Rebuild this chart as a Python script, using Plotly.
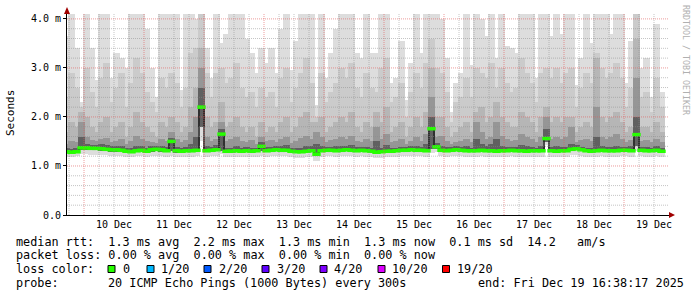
import numpy as np
import pandas as pd
import plotly.graph_objects as go

# ---------------- data (2-hour bins, values in ms) ----------------
bin_start = "2025-12-09 17:00"
bin_hours = 2
n_bins = 120

median = [1.29, 1.28, 1.29, 1.37, 1.37, 1.36, 1.36, 1.35, 1.34, 1.33, 1.33, 1.32, 1.30,
          1.29, 1.31, 1.32, 1.30, 1.33, 1.34, 1.33, 1.31,
          1.50, 1.31, 1.30, 1.31, 1.31, 1.32, 2.20, 1.31, 1.32, 1.33, 1.65,
          1.30, 1.30, 1.31, 1.30, 1.31, 1.30, 1.31, 1.40,
          1.31, 1.32, 1.33, 1.32, 1.32, 1.30, 1.29, 1.29, 1.30, 1.31, 1.24,
          1.31, 1.32, 1.32, 1.31, 1.32, 1.33, 1.32, 1.31, 1.32, 1.31,
          1.30, 1.28, 1.29, 1.30, 1.30, 1.31, 1.32, 1.32, 1.33, 1.32, 1.32, 1.31,
          1.76, 1.39,
          1.32, 1.31, 1.32, 1.33, 1.32, 1.31, 1.31, 1.31, 1.32, 1.31, 1.31, 1.30, 1.31,
          1.31, 1.32, 1.31, 1.31, 1.30, 1.31, 1.31, 1.31,
          1.56,
          1.31, 1.30, 1.31, 1.31, 1.34, 1.35, 1.33, 1.31, 1.30, 1.31, 1.32, 1.31, 1.31,
          1.31, 1.32, 1.32, 1.31,
          1.64, 1.32, 1.31, 1.31, 1.32, 1.30]

ping_max = [3.65, 4.1, 3.4, 2.3, 4.1, 3.4, 2.75, 4.1, 4.1, 2.8, 3.3, 3.2, 3.0, 4.1, 4.1, 4.1, 3.8, 3.0, 2.4, 4.1, 4.1,
            4.1, 4.1, 2.55, 4.1, 4.1, 4.0, 4.1, 3.4, 2.8, 4.1, 3.5, 3.7, 4.1, 4.1, 4.1, 3.6, 3.3, 2.9, 3.4, 3.1,
            3.4, 2.9, 3.8, 4.1, 2.95, 3.55, 4.1, 4.1, 4.1, 2.25, 4.1, 2.8, 3.3, 3.8, 4.1, 4.1, 4.1, 3.3, 3.2, 4.1,
            3.3, 3.3, 4.1, 4.1, 2.7, 2.8, 3.55, 2.35, 3.1, 4.1, 3.3, 4.1, 4.1, 4.1, 4.0, 3.2, 2.1, 2.7, 2.9, 4.1,
            3.05, 4.1, 4.0, 3.65, 4.1, 3.2, 4.1, 3.45, 3.4, 3.3, 4.1, 4.1, 4.1, 2.8, 4.1, 4.1, 3.65, 4.1, 3.7, 4.1,
            4.1, 2.65, 3.2, 4.1, 3.5, 4.1, 4.1, 4.1, 3.7, 4.1, 4.1, 2.7, 3.55, 4.1, 3.0, 3.2, 2.4, 3.9, 2.5]

ping_high2 = [2.4, 2.9, 2.6, 2.2, 3.0, 2.5, 2.2, 2.8, 3.1, 2.3, 2.6, 2.9, 2.2, 2.7, 3.2, 2.9, 2.5, 2.3, 2.1, 2.8, 2.6,
              2.9, 2.7, 2.2, 2.6, 3.3, 3.4, 4.1, 2.9, 2.4, 2.9, 3.0, 2.7, 2.8, 3.1, 2.6, 2.4, 2.5, 2.2, 2.6, 2.4,
              2.5, 2.2, 2.8, 3.0, 2.3, 2.6, 2.9, 3.2, 2.7, 2.0, 2.9, 2.3, 2.5, 2.7, 3.0, 2.8, 3.1, 2.6, 2.4, 2.9,
              2.6, 2.5, 3.0, 3.2, 2.3, 2.4, 2.7, 2.0, 2.5, 2.9, 2.6, 3.1, 3.6, 3.0, 2.9, 2.5, 1.9, 2.3, 2.4, 2.8,
              2.4, 3.0, 2.9, 2.8, 3.1, 2.6, 3.0, 2.7, 2.5, 2.6, 3.2, 2.9, 2.7, 2.3, 2.9, 3.0, 2.8, 3.0, 2.7, 2.9,
              3.0, 2.2, 2.6, 2.9, 2.7, 3.3, 3.0, 2.8, 2.9, 3.1, 2.8, 2.2, 2.6, 4.1, 2.4, 2.5, 2.1, 2.8, 2.2]

ping_high3 = [1.7, 1.9, 1.8, 2.1, 2.0, 1.8, 1.7, 1.9, 2.0, 1.7, 1.8, 1.9, 1.6, 1.8, 2.1, 1.9, 1.8, 1.7, 1.6, 1.9, 1.8,
              2.0, 1.9, 1.7, 1.8, 2.2, 2.6, 3.4, 2.0, 1.8, 1.9, 2.3, 1.8, 1.9, 2.0, 1.8, 1.7, 1.8, 1.6, 1.9, 1.7,
              1.8, 1.7, 1.9, 2.0, 1.7, 1.8, 2.0, 2.1, 1.9, 1.9, 2.0, 1.7, 1.8, 1.9, 2.0, 1.9, 2.1, 1.8, 1.7, 1.9,
              1.8, 2.1, 1.9, 2.2, 1.7, 1.8, 1.9, 1.6, 1.8, 2.0, 1.8, 2.1, 3.0, 2.0, 2.0, 1.8, 1.6, 1.7, 1.8, 1.9,
              1.7, 2.1, 2.2, 1.9, 2.0, 2.3, 2.0, 1.9, 1.8, 1.8, 2.1, 2.0, 1.9, 1.7, 2.0, 2.2, 1.9, 2.0, 1.9, 2.0,
              2.0, 1.7, 1.8, 1.9, 1.8, 3.2, 2.0, 1.9, 2.0, 2.1, 1.9, 1.7, 1.8, 3.6, 1.8, 1.8, 1.7, 1.9, 1.7]

ping_high4 = [1.45, 1.5, 1.48, 1.9, 1.6, 1.52, 1.5, 1.55, 1.58, 1.48, 1.5, 1.56, 1.45, 1.5, 1.62, 1.55, 1.5, 1.48, 1.46, 1.55, 1.5,
              1.7, 1.55, 1.48, 1.52, 1.7, 2.0, 3.0, 1.6, 1.5, 1.55, 1.9, 1.5, 1.55, 1.6, 1.5, 1.48, 1.52, 1.45, 1.6, 1.5,
              1.52, 1.48, 1.55, 1.6, 1.46, 1.5, 1.58, 1.62, 1.55, 1.7, 1.6, 1.48, 1.52, 1.55, 1.6, 1.55, 1.62, 1.5, 1.48, 1.55,
              1.5, 1.8, 1.55, 1.65, 1.48, 1.5, 1.55, 1.45, 1.5, 1.6, 1.5, 1.65, 2.4, 1.6, 1.62, 1.5, 1.45, 1.48, 1.5, 1.55,
              1.48, 1.9, 1.7, 1.55, 1.6, 1.9, 1.62, 1.55, 1.5, 1.52, 1.65, 1.6, 1.55, 1.48, 1.6, 2.0, 1.55, 1.6, 1.55, 1.6,
              1.8, 1.48, 1.52, 1.55, 1.5, 2.2, 1.6, 1.55, 1.6, 1.65, 1.55, 1.48, 1.52, 2.8, 1.5, 1.52, 1.48, 1.55, 1.48]

ping_high5 = [1.36, 1.35, 1.36, 1.6, 1.45, 1.42, 1.42, 1.44, 1.42, 1.4, 1.4, 1.4, 1.37, 1.36, 1.4, 1.4, 1.37, 1.4, 1.41, 1.4, 1.38,
              1.58, 1.38, 1.37, 1.38, 1.45, 1.6, 2.6, 1.4, 1.38, 1.42, 1.75, 1.37, 1.37, 1.4, 1.37, 1.38, 1.37, 1.37, 1.48, 1.38,
              1.39, 1.4, 1.4, 1.42, 1.36, 1.36, 1.36, 1.4, 1.4, 1.45, 1.4, 1.39, 1.39, 1.4, 1.4, 1.41, 1.42, 1.38, 1.38, 1.39,
              1.36, 1.5, 1.36, 1.42, 1.36, 1.37, 1.39, 1.38, 1.4, 1.4, 1.38, 1.45, 2.0, 1.46, 1.4, 1.38, 1.38, 1.4, 1.38, 1.4,
              1.37, 1.55, 1.45, 1.4, 1.45, 1.55, 1.4, 1.38, 1.38, 1.39, 1.42, 1.4, 1.38, 1.37, 1.4, 1.75, 1.38, 1.4, 1.38, 1.38,
              1.45, 1.42, 1.38, 1.37, 1.37, 1.6, 1.4, 1.38, 1.38, 1.4, 1.39, 1.38, 1.4, 2.0, 1.38, 1.38, 1.37, 1.4, 1.36]

ping_min = [1.20, 1.19, 1.20, 1.24, 1.24, 1.23, 1.23, 1.22, 1.22, 1.21, 1.21, 1.2, 1.19, 1.18, 1.2, 1.21, 1.19, 1.2, 1.21, 1.2, 1.19,
            1.2, 1.19, 1.18, 1.19, 1.19, 1.2, 1.5, 1.19, 1.2, 1.2, 1.25, 1.18, 1.18, 1.19, 1.18, 1.19, 1.18, 1.19, 1.2, 1.19,
            1.2, 1.21, 1.2, 1.2, 1.18, 1.17, 1.17, 1.18, 1.19, 1.1, 1.19, 1.2, 1.2, 1.19, 1.2, 1.21, 1.2, 1.19, 1.2, 1.19,
            1.18, 1.16, 1.17, 1.18, 1.18, 1.19, 1.2, 1.2, 1.21, 1.2, 1.2, 1.19, 1.26, 1.28, 1.2, 1.19, 1.2, 1.21, 1.2, 1.19,
            1.19, 1.19, 1.2, 1.19, 1.19, 1.18, 1.19, 1.19, 1.2, 1.19, 1.19, 1.18, 1.19, 1.19, 1.19, 1.42, 1.19, 1.18, 1.19, 1.19,
            1.22, 1.23, 1.21, 1.19, 1.18, 1.19, 1.2, 1.19, 1.19, 1.19, 1.2, 1.2, 1.19, 1.3, 1.2, 1.19, 1.19, 1.2, 1.18]

ping_low2 = [1.26, 1.25, 1.26, 1.33, 1.33, 1.32, 1.32, 1.31, 1.3, 1.29, 1.29, 1.28, 1.27, 1.26, 1.28, 1.29, 1.27, 1.29, 1.3, 1.29, 1.28,
             1.3, 1.27, 1.27, 1.28, 1.28, 1.29, 1.8, 1.28, 1.29, 1.3, 1.3, 1.27, 1.27, 1.28, 1.27, 1.28, 1.27, 1.28, 1.3, 1.28,
             1.29, 1.3, 1.29, 1.29, 1.27, 1.26, 1.26, 1.27, 1.28, 1.2, 1.28, 1.29, 1.29, 1.28, 1.29, 1.3, 1.29, 1.28, 1.29, 1.28,
             1.27, 1.25, 1.26, 1.27, 1.27, 1.28, 1.29, 1.29, 1.3, 1.29, 1.29, 1.28, 1.35, 1.34, 1.29, 1.28, 1.29, 1.3, 1.29, 1.28,
             1.28, 1.28, 1.29, 1.28, 1.28, 1.27, 1.28, 1.28, 1.29, 1.28, 1.28, 1.27, 1.28, 1.28, 1.28, 1.48, 1.28, 1.27, 1.28, 1.28,
             1.31, 1.32, 1.3, 1.28, 1.27, 1.28, 1.29, 1.28, 1.28, 1.28, 1.29, 1.29, 1.28, 1.4, 1.29, 1.28, 1.28, 1.29, 1.27]

day_labels = ["10 Dec", "11 Dec", "12 Dec", "13 Dec", "14 Dec",
              "15 Dec", "16 Dec", "17 Dec", "18 Dec", "19 Dec"]
y_tick_values = [0, 1, 2, 3, 4]
y_tick_labels = ["0.0", "1.0 m", "2.0 m", "3.0 m", "4.0 m"]

loss_labels = ["0", "1/20", "2/20", "3/20", "4/20", "10/20", "19/20"]
loss_colors = ["#26ff00", "#00b8ff", "#0059ff", "#5e00ff", "#7e00ff", "#dd00ff", "#ff0000"]

stats_line = "median rtt:  1.3 ms avg  2.2 ms max  1.3 ms min  1.3 ms now  0.1 ms sd  14.2   am/s"
loss_line = "packet loss: 0.00 % avg  0.00 % max  0.00 % min  0.00 % now"
probe_text = "20 ICMP Echo Pings (1000 Bytes) every 300s"
end_text = "end: Fri Dec 19 16:38:17 2025"

# ---------------- layout geometry ----------------
W_FIG, H_FIG = 697, 297
L, R, T, B = 67, 28, 14, 82
PW = W_FIG - L - R
PH = H_FIG - T - B
X_RANGE = ["2025-12-09 17:12", "2025-12-19 18:00"]
Y_RANGE = [0, 4.1]
MONO = "DejaVu Sans Mono"


def px(xp):
    return (xp - L) / PW


def py(yp):
    return (T + PH - yp) / PH


def nb(s):
    return s.replace(" ", "\u00a0")


t = pd.date_range(bin_start, periods=n_bins, freq=f"{bin_hours}h")
bar_w = bin_hours * 3600 * 1000 * 1.25   # slight overlap removes seams

fig = go.Figure()

layers = [
    (ping_min, ping_max, "#dddddd"),
    (ping_low2, ping_high2, "#cbcbcb"),
    (ping_low2, ping_high3, "#b6b6b6"),
    (ping_low2, ping_high4, "#969696"),
    (ping_low2, ping_high5, "#606060"),
]
for lo, hi, col in layers:
    lo_a = np.array(lo)
    hi_a = np.array(hi)
    fig.add_trace(go.Bar(x=t, y=hi_a - lo_a, base=lo_a, width=bar_w,
                         marker=dict(color=col, line=dict(width=0)),
                         hoverinfo="skip", showlegend=False))

# median connectors (thin black) and green median segments
fig.add_trace(go.Scatter(x=t, y=median, mode="lines", line=dict(color="#000000", width=1, shape="hvh"),
                         hoverinfo="skip", showlegend=False))
fig.add_trace(go.Scatter(x=t, y=median, mode="markers",
                         marker=dict(symbol="line-ew", size=6, line=dict(color=loss_colors[0], width=3.5)),
                         hoverinfo="skip", showlegend=False))

shapes = []
# vertical grid: every 6 h, red at midnight
for g in pd.date_range("2025-12-09 18:00", "2025-12-19 12:00", freq="6h"):
    major = g.hour == 0
    shapes.append(dict(type="line", xref="x", yref="paper", x0=g, x1=g, y0=0, y1=1,
                       line=dict(color="rgba(225,90,90,0.6)" if major else "rgba(140,140,140,0.5)",
                                 width=1, dash="1px,1px"), layer="above"))
# horizontal grid: every 0.2 ms, red at whole ms
for k in range(1, 21):
    v = k * 0.2
    major = k % 5 == 0
    shapes.append(dict(type="line", xref="paper", yref="y", x0=0, x1=1, y0=v, y1=v,
                       line=dict(color="rgba(225,90,90,0.6)" if major else "rgba(140,140,140,0.5)",
                                 width=1, dash="1px,1px"), layer="above"))
# axis arrows
shapes.append(dict(type="path", xref="paper", yref="paper", layer="above",
                   path=f"M {px(64)},{py(14)} L {px(70)},{py(14)} L {px(67)},{py(7)} Z",
                   fillcolor="#a00000", line=dict(width=0)))
shapes.append(dict(type="path", xref="paper", yref="paper", layer="above",
                   path=f"M {px(669)},{py(212)} L {px(669)},{py(218)} L {px(675)},{py(215)} Z",
                   fillcolor="#a00000", line=dict(width=0)))

annotations = []
annotations.append(dict(text="Seconds", x=px(10), y=py(113), xref="paper", yref="paper",
                        textangle=-90, showarrow=False, xanchor="center", yanchor="middle",
                        font=dict(family=MONO, size=11, color="#000000")))
annotations.append(dict(text=nb("RRDTOOL / TOBI OETIKER"), x=px(686), y=py(60), xref="paper", yref="paper",
                        textangle=90, showarrow=False, xanchor="center", yanchor="middle",
                        font=dict(family=MONO, size=8.3, color="#b0b0b0")))

LEG = dict(family=MONO, size=11.8, color="#000000")


def leg_text(s, xp, yp):
    annotations.append(dict(text=nb(s), x=px(xp), y=py(yp), xref="paper", yref="paper",
                            showarrow=False, xanchor="left", yanchor="middle", font=LEG,
                            borderpad=0))


leg_text(stats_line, 15, 241.5)
leg_text(loss_line, 15, 255)
leg_text("loss color:", 15, 269)
leg_text("probe:", 15, 283)
leg_text(probe_text, 107, 283)
leg_text(end_text, 477, 283)

square_x = [108, 147, 204, 262, 320, 378, 442.5]
label_x = [122, 160, 217.5, 275.5, 333, 391, 456]
for sx, lx, lab, col in zip(square_x, label_x, loss_labels, loss_colors):
    shapes.append(dict(type="rect", xref="paper", yref="paper",
                       x0=px(sx), x1=px(sx + 7), y0=py(272.5), y1=py(265.5),
                       fillcolor=col, line=dict(color="#000000", width=1), layer="above"))
    leg_text(lab, lx, 269)

fig.update_layout(
    width=W_FIG, height=H_FIG,
    margin=dict(l=L, r=R, t=T, b=B, pad=0),
    paper_bgcolor="#ffffff", plot_bgcolor="#ffffff",
    barmode="overlay", bargap=0, showlegend=False,
    shapes=shapes, annotations=annotations,
    xaxis=dict(type="date", range=X_RANGE, showgrid=False, zeroline=False,
               tickmode="array", tickvals=pd.date_range("2025-12-10 12:00", periods=10, freq="D"),
               ticktext=day_labels, ticks="", tickfont=dict(family=MONO, size=10, color="#000000"),
               showline=True, linecolor="#000000", linewidth=1, fixedrange=True),
    yaxis=dict(range=Y_RANGE, showgrid=False, zeroline=False,
               tickmode="array", tickvals=y_tick_values, ticktext=y_tick_labels,
               ticks="outside", ticklen=3, tickcolor="#000000",
               tickfont=dict(family=MONO, size=10, color="#000000"),
               showline=True, linecolor="#000000", linewidth=1, fixedrange=True),
)

fig.write_html("out.html")
